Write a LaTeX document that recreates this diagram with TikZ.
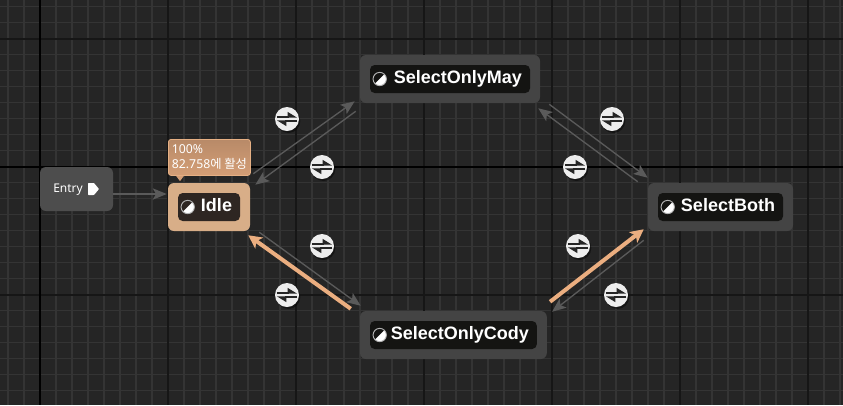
\documentclass[tikz,border=0pt]{standalone}
\usepackage{fontspec}
\setmainfont{Noto Sans}
\newfontfamily\krfont{Noto Sans CJK KR}
\newfontfamily\boxfont{Liberation Sans}
\usetikzlibrary{arrows.meta,shadows}
\definecolor{gridbg}{HTML}{252525}
\definecolor{gridminor}{HTML}{343434}
\definecolor{gridmajor}{HTML}{161616}
\definecolor{statebg}{HTML}{444444}
\definecolor{labelbg}{HTML}{141412}
\definecolor{idlebg}{HTML}{D8AE88}
\definecolor{idlelabel}{HTML}{2E2622}
\definecolor{linkgray}{HTML}{5A5A5A}
\definecolor{linkactive}{HTML}{EBAE80}
\definecolor{iconbg}{HTML}{EDEDED}
\definecolor{tipTop}{HTML}{B88A68}
\definecolor{tipBot}{HTML}{D49E76}
\definecolor{tipEdge}{HTML}{E6B084}
\tikzset{
  statebox/.style={rectangle,rounded corners=4.5pt,fill=statebg,minimum height=36pt,inner sep=0pt},
  activebox/.style={statebox,fill=idlebg},
  statelabel/.style={rectangle,rounded corners=3.5pt,text=white,minimum height=21pt,
    inner xsep=6pt,inner ysep=0pt,align=right,text height=9.5pt,text depth=2.5pt,
    font=\boxfont\fontsize{13.5}{14}\selectfont\bfseries},
  stateicon/.style={circle,draw=iconbg!75!black,line width=.7pt,minimum size=10pt,inner sep=0pt,
    path picture={\fill[white] (path picture bounding box.north east) -- (path picture bounding box.south west)
      -- (path picture bounding box.south east) -- cycle;}},
  trans/.style={draw=linkgray,line width=1pt,-{Stealth[length=10.5pt,width=8.5pt,inset=2.5pt]}},
  activetrans/.style={draw=linkactive,line width=3pt,-{Stealth[length=10pt,width=10pt,inset=2.5pt]}},
  ruleicon/.style={circle,fill=iconbg,minimum size=18pt,inner sep=0pt,
    drop shadow={shadow xshift=1pt,shadow yshift=-1.5pt,opacity=.45,fill=black},
    path picture={
      \draw[black!85,line width=1.2pt,-{Stealth[harpoon,length=6pt,width=7pt,inset=0pt]}]
        ([xshift=-7.5pt,yshift=1.7pt]path picture bounding box.center) -- ([xshift=7.5pt,yshift=1.7pt]path picture bounding box.center);
      \draw[black!85,line width=1.2pt,-{Stealth[harpoon,length=6pt,width=7pt,inset=0pt]}]
        ([xshift=7.5pt,yshift=-1.7pt]path picture bounding box.center) -- ([xshift=-7.5pt,yshift=-1.7pt]path picture bounding box.center);}},
}
\begin{document}
\begin{tikzpicture}[x=.75pt,y=-.75pt]
  \useasboundingbox (0,0) rectangle (843,405);
  \fill[gridbg] (0,0) rectangle (843,405);
  % grid
  \foreach \gx in {8,24,...,840} \draw[gridminor,line width=1.4pt] (\gx,0) -- (\gx,405);
  \foreach \gy in {6.5,22.5,...,403} \draw[gridminor,line width=1.4pt] (0,\gy) -- (843,\gy);
  \foreach \gx in {168,296,424,552,680,808} \draw[gridmajor,line width=1.5pt] (\gx,0) -- (\gx,405);
  \foreach \gy in {38.5,294.5} \draw[gridmajor,line width=1.5pt] (0,\gy) -- (843,\gy);
  \draw[black,line width=1.5pt] (40,0) -- (40,405);
  \draw[black,line width=1.5pt] (0,166.5) -- (843,166.5);
  % states
  \node[statebox,fill=statebg!95!white,minimum width=54.75pt,minimum height=33pt] (entry) at (76.5,189) {};
  \node[text=white,font=\fontsize{9}{11}\selectfont,inner sep=0pt] (entrytext) at (68,190) {Entry};
  \fill[white,rounded corners=.5pt] (88,183) -- (94,183) -- (99,189) -- (94,195) -- (88,195) -- cycle;
  \foreach \name/\txt/\cx/\cy/\bw/\sty/\lc in {
    idle/Idle/209/207/82/activebox/idlelabel,
    may/SelectOnlyMay/450/79/180/statebox/labelbg,
    cody/SelectOnlyCody/453.4/335/186.8/statebox/labelbg,
    both/SelectBoth/720.5/207/145/statebox/labelbg} {
    \node[\sty,minimum width=\bw*.75pt] (\name) at (\cx,\cy) {};
    \node[statelabel,fill=\lc,text width={(\bw-36)*.75pt}] (\name label) at (\cx,\cy) {\txt};
    \node[stateicon] (\name icon) at ([xshift=7.5pt]\name label.west) {};
  }
  % tooltip
  \node[rectangle,rounded corners=2pt,top color=tipTop,bottom color=tipBot,draw=tipEdge,line width=.6pt,
    minimum width=61.5pt,minimum height=27pt,inner xsep=2.2pt,inner ysep=0pt,align=left,text=white,
    font=\fontsize{9.2}{11.4}\selectfont,anchor=north west] (tip) at (168,139)
    {100\%\\82.758{\krfont 에 활성}};
  \fill[tipBot] ([xshift=6pt]tip.south west) -- ([xshift=12pt]tip.south west) -- ([xshift=9pt,yshift=-4pt]tip.south west) -- cycle;
  % transitions
  \path[every edge/.append style=trans]
  ([shift={(0,5)}]entry.east) edge ([shift={(-1,-13)}]idle.west)
  ([shift={(3,-9)}]idle.north east) edge ([shift={(-5,-2)}]may.south west)
  ([shift={(-4,8)}]may.south west) edge ([shift={(5,2)}]idle.north east)
  ([shift={(9,1)}]may.south east) edge ([shift={(0,-5)}]both.north west)
  ([shift={(-10,-1)}]both.north west) edge ([shift={(-2,5)}]may.south east)
  ([shift={(-4,9)}]both.south west) edge ([shift={(5,1)}]cody.north east)
  ([shift={(9,1)}]idle.south east) edge ([shift={(1,-5)}]cody.north west);
  \path[every edge/.append style=activetrans]
  ([shift={(3,-9)}]cody.north east) edge ([shift={(-4,-2)}]both.south west)
  ([shift={(-9,-2)}]cody.north west) edge ([shift={(-2,4)}]idle.south east);
  % rule icons
  \foreach \rname/\rx/\ry in {ra/287/119,rb/322/167,rc/322/246,rd/287/295,re/612/119,rf/575/167,rg/578/246,rh/616/295}
    \node[ruleicon] (\rname) at (\rx,\ry) {};
\end{tikzpicture}
\end{document}
